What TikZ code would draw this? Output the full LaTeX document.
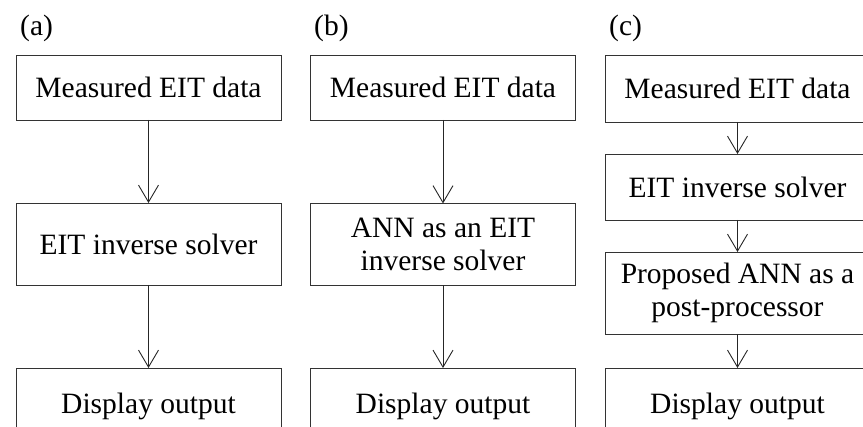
\documentclass[tikz,border=0pt]{standalone}
\usepackage{fontspec}
\setmainfont{Liberation Serif}
\usetikzlibrary{arrows.meta}

\begin{document}
\begin{tikzpicture}[x=1pt, y=-1pt,
  blockbox/.style={draw=black!80, line width=0.9pt, minimum width=265pt,
    inner sep=0pt, outer sep=0pt, align=center,
    font=\fontsize{29.5}{33}\selectfont},
  panellabel/.style={anchor=base west, inner sep=0pt,
    font=\fontsize{29.5}{33}\selectfont},
  flow/.style={draw=black!85, line width=0.9pt,
    -{Straight Barb[length=17pt, width=20pt, line width=0.9pt]}}]
  \path[use as bounding box, clip] (0,0) rectangle (863,427);

  % panel labels
  \node[panellabel] (la) at (20,36) {(a)};
  \node[panellabel] (lb) at (314,36) {(b)};
  \node[panellabel] (lc) at (609,36) {(c)};

  % (a) conventional solver
  \node[blockbox, minimum height=65pt] (a1) at (148.5,87.5) {Measured EIT data};
  \node[blockbox, minimum height=82pt] (a2) at (148.5,244) {EIT inverse solver};
  \node[blockbox, minimum height=76pt] (a3) at (148.5,406) {Display output};

  % (b) ANN replacing the solver
  \node[blockbox, minimum height=65pt] (b1) at (443,87.5) {Measured EIT data};
  \node[blockbox, minimum height=82pt] (b2) at (443,244.5) {ANN as an EIT\\inverse solver};
  \node[blockbox, minimum height=76pt] (b3) at (443,406) {Display output};

  % (c) ANN as a post-processor
  \node[blockbox, minimum height=67pt] (c1) at (737.5,88.5) {Measured EIT data};
  \node[blockbox, minimum height=66pt] (c2) at (737.5,187) {EIT inverse solver};
  \node[blockbox, minimum height=82pt] (c3) at (737.5,293) {Proposed ANN as a\\post-processor};
  \node[blockbox, minimum height=76pt] (c4) at (737.5,406) {Display output};

  % connectors
  \draw[flow] (a1.south) -- (a2.north);
  \draw[flow] (a2.south) -- (a3.north);
  \draw[flow] (b1.south) -- (b2.north);
  \draw[flow] (b2.south) -- (b3.north);
  \draw[flow] (c1.south) -- (c2.north);
  \draw[flow] (c2.south) -- (c3.north);
  \draw[flow] (c3.south) -- (c4.north);
\end{tikzpicture}
\end{document}
